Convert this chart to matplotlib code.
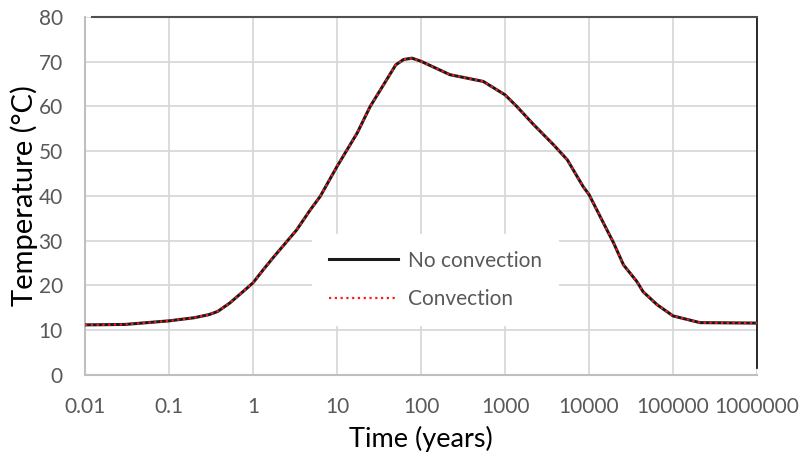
import matplotlib.pyplot as plt
from matplotlib.lines import Line2D

plt.rcParams['font.family'] = ['Lato', 'DejaVu Sans']

# time (years) and temperature (deg C)
time_yr = [0.01, 0.03, 0.1, 0.2, 0.3, 0.38, 0.53, 0.8, 1.0, 1.32, 1.73, 3.3, 4.8,
           6.3, 10, 17.4, 24.8, 39, 50, 62, 78, 100, 221, 550, 1000, 1380, 2200,
           3750, 5500, 8500, 10000, 14800, 19600, 25700, 37000, 44000, 64600,
           100000, 209000, 1000000]
temp_no_conv = [11.2, 11.3, 12.1, 12.8, 13.5, 14.2, 16.1, 19.0, 20.6, 23.5, 26.2,
                32.4, 36.9, 39.9, 46.6, 54.1, 60.0, 66.0, 69.3, 70.5, 70.8, 70.1,
                67.1, 65.6, 62.6, 60.0, 55.9, 51.5, 48.1, 42.1, 40.3, 34.0, 29.5,
                24.6, 20.9, 18.6, 15.7, 13.2, 11.7, 11.6]
temp_conv = [11.2, 11.3, 12.1, 12.8, 13.5, 14.2, 16.1, 19.0, 20.6, 23.5, 26.2,
             32.4, 36.9, 39.9, 46.6, 54.1, 60.0, 66.0, 69.3, 70.5, 70.8, 70.1,
             67.1, 65.6, 62.6, 60.0, 55.9, 51.5, 48.1, 42.1, 40.3, 34.0, 29.5,
             24.6, 20.9, 18.6, 15.7, 13.2, 11.7, 11.6]

xticks = [0.01, 0.1, 1, 10, 100, 1000, 10000, 100000, 1000000]
xlabels = ['0.01', '0.1', '1', '10', '100', '1000', '10000', '100000', '1000000']
yticks = [0, 10, 20, 30, 40, 50, 60, 70, 80]

fig = plt.figure(figsize=(8.02, 4.59), dpi=100)
ax = fig.add_axes([0.106, 0.183, 0.838, 0.78])

ax.plot(time_yr, temp_no_conv, color='#1a1a1a', lw=2.2, label='No convection', zorder=3)
ax.plot(time_yr, temp_conv, color='#ff1a1a', lw=1.6, ls=(0, (1, 1.6)), label='Convection', zorder=4)

ax.set_xscale('log')
ax.set_xlim(0.01, 1000000)
ax.set_ylim(0, 80)
ax.set_xticks(xticks)
ax.set_xticklabels(xlabels)
ax.minorticks_off()
ax.set_yticks(yticks)
ax.grid(True, color='#d9d9d9', lw=1.3, zorder=0)
ax.set_axisbelow(True)

for s in ['left', 'bottom']:
    ax.spines[s].set_color('#bfbfbf')
    ax.spines[s].set_linewidth(1.5)
ax.spines['top'].set_color('#505050')
ax.spines['top'].set_linewidth(1.5)
ax.spines['top'].set_bounds(0.0121, 1000000)
ax.spines['right'].set_color('#1a1a1a')
ax.spines['right'].set_linewidth(1.3)
ax.spines['right'].set_bounds(1.5, 80)

ax.tick_params(axis='both', length=0, labelsize=15, labelcolor='#595959')
ax.tick_params(axis='y', pad=16)
ax.tick_params(axis='x', pad=16)

ax.set_xlabel('Time (years)', fontsize=19.5, color='black', labelpad=6)
ax.set_ylabel('Temperature (°C)', fontsize=21, color='black')
ax.yaxis.set_label_coords(-0.07, 0.5)

handles = [Line2D([], [], color='#1a1a1a', lw=2.2),
           Line2D([], [], color='#ff1a1a', lw=1.6, ls=(0, (1, 1.6)))]
leg = ax.legend(handles, ['No convection', 'Convection'], loc='center',
                bbox_to_anchor=(0.543, 0.39), bbox_transform=fig.transFigure,
                frameon=True, fontsize=15, handlelength=3.3, handletextpad=0.5,
                labelspacing=0.9, borderpad=0.8, borderaxespad=0)
leg.get_frame().set_edgecolor('none')
leg.get_frame().set_facecolor('white')
leg.get_frame().set_alpha(1)
for txt in leg.get_texts():
    txt.set_color('#595959')

fig.savefig('out.png', dpi=100)
